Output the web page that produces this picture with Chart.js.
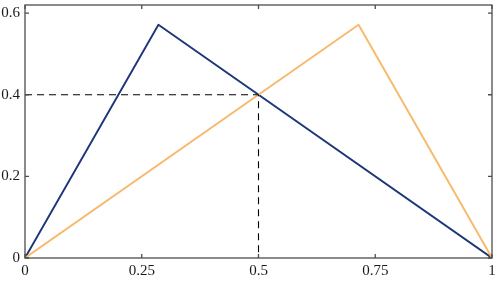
<!DOCTYPE html>
<html>
<head>
<meta charset="utf-8">
<script src="https://cdn.jsdelivr.net/npm/chart.js@4"></script>
<style>
  html, body { margin: 0; padding: 0; background: #fff; }
  #wrap { width: 499px; height: 283px; }
</style>
</head>
<body>
<div id="wrap"><canvas id="c" width="499" height="283"></canvas></div>
<script>
// data
const xTicks = [0, 0.25, 0.5, 0.75, 1];
const yTicks = [0, 0.2, 0.4, 0.6];
const blueX = [0, 0.2857, 1];
const blueY = [0, 0.5714, 0];
const orangeX = [0, 0.7143, 1];
const orangeY = [0, 0.5714, 0];
const guideX = [0, 0.5, 0.5];
const guideY = [0.4, 0.4, 0];

const pts = (xs, ys) => xs.map((x, i) => ({ x, y: ys[i] }));
const AXIS = '#4d4d4d';
const FONT = { family: "'Liberation Serif', 'Times New Roman', serif", size: 15 };

// box frame + inward ticks on all four sides
const frame = {
  id: 'frame',
  afterDatasetsDraw(chart) {
    const { ctx, chartArea: a, scales } = chart;
    ctx.save();
    ctx.strokeStyle = AXIS;
    ctx.lineWidth = 1.3;
    ctx.strokeRect(a.left, a.top, a.right - a.left, a.bottom - a.top);
    ctx.beginPath();
    xTicks.forEach(v => {
      const px = scales.x.getPixelForValue(v);
      ctx.moveTo(px, a.bottom); ctx.lineTo(px, a.bottom - 4);
      ctx.moveTo(px, a.top); ctx.lineTo(px, a.top + 4);
    });
    yTicks.forEach(v => {
      const py = scales.y.getPixelForValue(v);
      ctx.moveTo(a.left, py); ctx.lineTo(a.left + 4, py);
      ctx.moveTo(a.right, py); ctx.lineTo(a.right - 4, py);
    });
    ctx.stroke();
    ctx.restore();
  }
};

const noGrid = { display: false, drawTicks: false, tickLength: 0 };

new Chart(document.getElementById('c'), {
  type: 'scatter',
  data: {
    datasets: [
      { data: pts(guideX, guideY), borderColor: '#000', borderWidth: 1.1, borderDash: [7, 5] },
      { data: pts(orangeX, orangeY), borderColor: '#f8b96c', borderWidth: 1.9 },
      { data: pts(blueX, blueY), borderColor: '#1c3679', borderWidth: 1.9 }
    ].map(d => Object.assign(d, { showLine: true, pointRadius: 0, fill: false, borderJoinStyle: 'round' }))
  },
  options: {
    responsive: false,
    animation: false,
    layout: { autoPadding: false, padding: { top: 5, right: 7, left: 0, bottom: 0 } },
    plugins: { legend: { display: false }, tooltip: { enabled: false } },
    scales: {
      x: {
        type: 'linear', min: 0, max: 1,
        afterBuildTicks: s => { s.ticks = xTicks.map(v => ({ value: v })); },
        afterFit: s => { s.height = 25; s.paddingLeft = 0; s.paddingRight = 0; },
        grid: noGrid,
        border: { display: false },
        ticks: { color: '#1a1a1a', padding: 4, maxRotation: 0, font: FONT, callback: v => String(v) }
      },
      y: {
        type: 'linear', min: 0, max: 0.62,
        afterBuildTicks: s => { s.ticks = yTicks.map(v => ({ value: v })); },
        afterFit: s => { s.width = 25; s.paddingTop = 0; s.paddingBottom = 0; },
        grid: noGrid,
        border: { display: false },
        ticks: { color: '#1a1a1a', padding: 5, font: FONT, callback: v => String(v) }
      }
    }
  },
  plugins: [frame]
});
</script>
</body>
</html>
